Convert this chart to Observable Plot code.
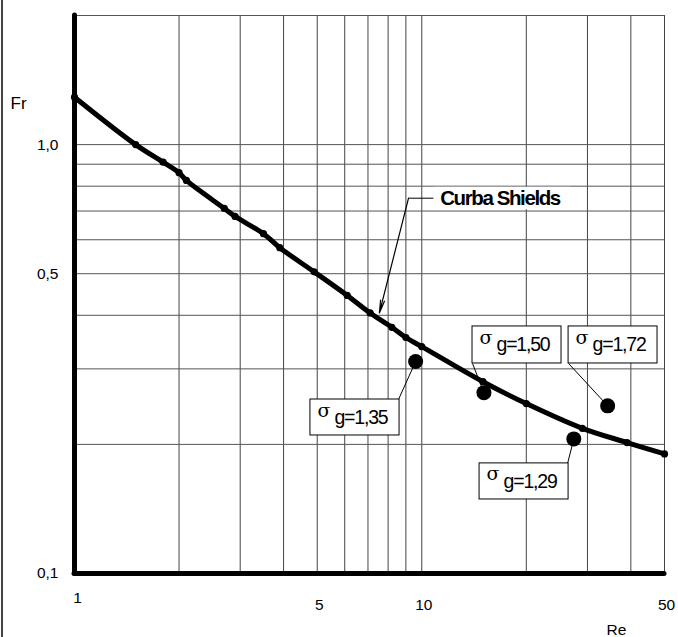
<!DOCTYPE html>
<html><head><meta charset="utf-8">
<script src="https://cdn.jsdelivr.net/npm/d3@7"></script>
<script src="https://cdn.jsdelivr.net/npm/@observablehq/plot@0.6"></script>
<style>
body{margin:0;background:#fff;}
#wrap{position:relative;width:678px;height:637px;overflow:hidden;background:#fff;}
#edge{position:absolute;left:1px;top:0;width:2px;height:637px;background:#444;}
</style></head>
<body><div id="wrap"><div id="edge"></div></div>
<script>
// Shields curve (Re, Fr)
const reValues = [1, 1.5, 1.8, 2, 2.1, 2.7, 2.9, 3.5, 3.9, 4.9, 6.1, 7.1, 8.2, 9, 10, 15, 20, 29, 39, 50];
const frValues = [1.29, 1.0, 0.91, 0.86, 0.825, 0.71, 0.68, 0.62, 0.575, 0.505, 0.445, 0.405, 0.375, 0.355, 0.338, 0.28, 0.249, 0.218, 0.202, 0.19];
// measured samples
const sampleLabels = ["g=1,35", "g=1,50", "g=1,29", "g=1,72"];
const sampleRe = [9.6, 15.1, 27.4, 34.3];
const sampleFr = [0.312, 0.264, 0.206, 0.246];
// grid and ticks
const gridRe = [2, 3, 4, 5, 6, 7, 8, 9, 10, 20, 30, 40, 50];
const gridFr = [0.2, 0.3, 0.4, 0.5, 0.6, 0.7, 0.8, 0.9, 1.0, 2.0];
const yTicks = [0.1, 0.5, 1.0];
const xTicks = [5, 10, 50];
const curveName = "Curba Shields";

// annotation layout (data coordinates)
const layout = {
  boxes: [
    [4.78, 8.63, 0.2545, 0.2098],
    [14.0, 25.26, 0.3767, 0.3088],
    [14.67, 26.47, 0.1806, 0.1488],
    [26.47, 47.74, 0.3767, 0.3088]
  ],
  leaderFrom: [[8.57, 0.2545], [14.0, 0.3088], [26.3, 0.1806], [26.47, 0.3088]],
  title: {x: 11.3, y: 0.75, bx1: 10.85, bx2: 26.8, by1: 0.795, by2: 0.705,
          hx1: 10.8, hx2: 9.16, ax: 7.55, ay: 0.405}
};

const curve = reValues.map((re, i) => ({re, fr: frValues[i]}));
const samples = sampleLabels.map((label, i) => ({
  label, re: sampleRe[i], fr: sampleFr[i],
  x1: layout.boxes[i][0], x2: layout.boxes[i][1], y1: layout.boxes[i][2], y2: layout.boxes[i][3],
  lx: layout.leaderFrom[i][0], ly: layout.leaderFrom[i][1]
}));
const fmt = d => d.toFixed(1).replace(".", ",");
const T = layout.title;
const font = "Liberation Sans, Arial, sans-serif";

const chart = Plot.plot({
  width: 678, height: 637,
  marginLeft: 74, marginRight: 14, marginTop: 15, marginBottom: 64,
  style: {fontFamily: font, fontSize: "15px", background: "#fff", color: "#000"},
  x: {type: "log", domain: [1, 50]},
  y: {type: "log", domain: [0.1, 2]},
  marks: [
    Plot.ruleX(gridRe, {stroke: "#444", strokeWidth: 1}),
    Plot.ruleY(gridFr, {stroke: "#555", strokeWidth: 1}),
    Plot.line(curve, {x: "re", y: "fr", stroke: "#000", strokeWidth: 5, curve: "catmull-rom"}),
    Plot.dot(curve, {x: "re", y: "fr", r: 3.6, fill: "#000"}),
    Plot.dot(samples, {x: "re", y: "fr", r: 7.5, fill: "#000"}),
    Plot.link(samples, {x1: "lx", y1: "ly", x2: "re", y2: "fr", stroke: "#000", strokeWidth: 1}),
    Plot.rect(samples, {x1: "x1", x2: "x2", y1: "y1", y2: "y2", fill: "#fff", stroke: "#000", strokeWidth: 1}),
    Plot.text(samples, {x: "x1", y: "y1", text: () => "σ", dx: 7, dy: 11, textAnchor: "start", lineAnchor: "middle", fontFamily: "DejaVu Serif, serif", fontSize: 19, fontWeight: 300}),
    Plot.text(samples, {x: "x1", y: "y1", text: "label", dx: 24, dy: 18, textAnchor: "start", lineAnchor: "middle", fontSize: 19.5}),
    // Curba Shields label with arrow
    Plot.rect([T], {x1: "bx1", x2: "bx2", y1: "by1", y2: "by2", fill: "#fff"}),
    Plot.text([T], {x: "x", y: "y", text: () => curveName, textAnchor: "start", lineAnchor: "middle", fontWeight: "bold", fontSize: 20.5}),
    Plot.link([T], {x1: "hx1", x2: "hx2", y1: "y", y2: "y", stroke: "#000", strokeWidth: 1}),
    Plot.arrow([T], {x1: "hx2", y1: "y", x2: "ax", y2: "ay", stroke: "#000", strokeWidth: 1.2, headAngle: 18, headLength: 16, insetEnd: 0}),
    // thick axes
    Plot.ruleX([1], {strokeWidth: 5, stroke: "#000", strokeLinecap: "round"}),
    Plot.ruleY([0.1], {strokeWidth: 5, stroke: "#000", strokeLinecap: "round"}),
    Plot.axisY(yTicks, {tickSize: 0, tickPadding: 16, tickFormat: fmt, label: null, fontSize: 15.5}),
    Plot.axisX([1], {tickSize: 0, tickPadding: 18, dx: 3, tickFormat: d => String(d), label: null, fontSize: 15.5}),
    Plot.axisX(xTicks, {tickSize: 0, tickPadding: 25, dx: 2, tickFormat: d => String(d), label: null, fontSize: 15.5}),
    Plot.text(["Fr"], {text: d => d, frameAnchor: "top-left", dx: -64, dy: 88, textAnchor: "start", lineAnchor: "middle", fontSize: 17}),
    Plot.text(["Re"], {text: d => d, frameAnchor: "bottom-right", dx: -48, dy: 57, textAnchor: "middle", lineAnchor: "middle", fontSize: 15.5})
  ]
});

d3.select(chart).selectAll("text").each(function () {
  const t = this.textContent;
  if (t.startsWith("g=")) this.setAttribute("letter-spacing", "-1.2");
  if (t === curveName) this.setAttribute("letter-spacing", "-1.4");
});
document.getElementById("wrap").prepend(chart);
</script>
</body></html>
